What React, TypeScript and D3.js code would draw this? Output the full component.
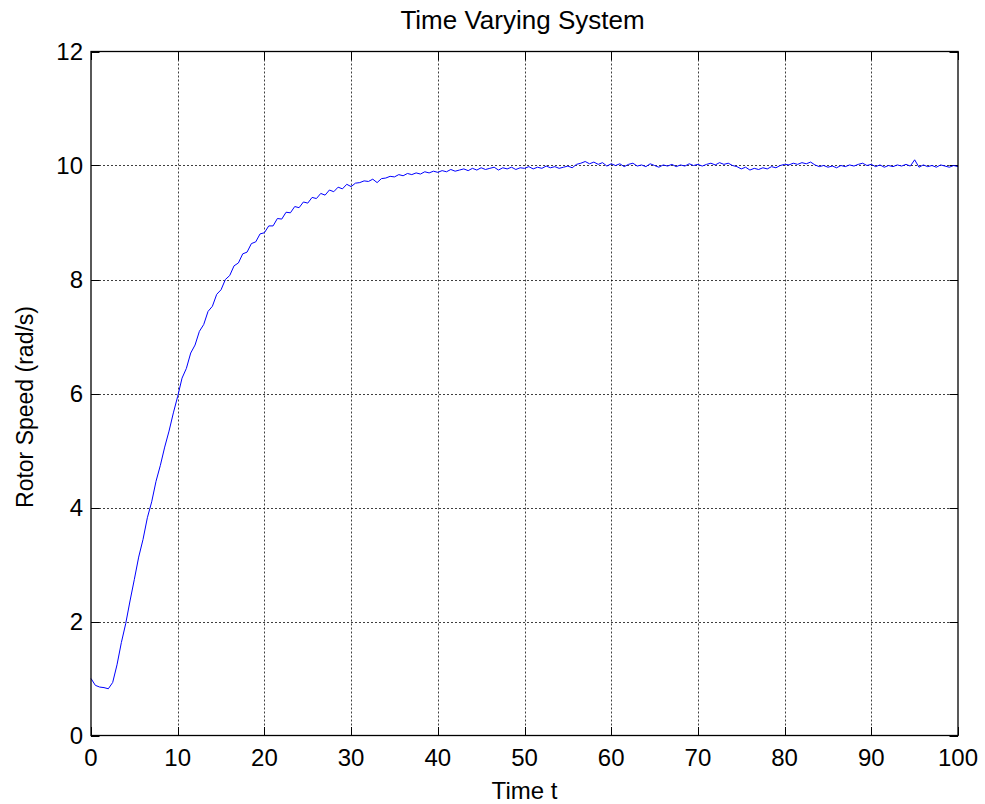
import React from "react";
import * as d3 from "d3";

const timeStep = 0.5;
// speed samples every 0.5 s, t = 0 .. 10
const speedRise = [
  1.0, 0.88, 0.85, 0.84, 0.82, 0.93, 1.24, 1.63, 1.96, 2.36, 2.74, 3.13, 3.44, 3.82, 4.1, 4.46, 4.74, 5.06, 5.34, 5.66, 5.95,
];
// t = 10.5 .. 30
const speedSettle = [
  6.27, 6.44, 6.71, 6.85, 7.09, 7.21, 7.44, 7.53, 7.74, 7.82, 8.0, 8.07, 8.24, 8.29, 8.45, 8.48, 8.63, 8.66, 8.8, 8.82,
  8.94, 8.94, 9.07, 9.06, 9.18, 9.17, 9.28, 9.26, 9.36, 9.34, 9.44, 9.42, 9.51, 9.48, 9.57, 9.54, 9.62, 9.59, 9.67, 9.63,
];
// t = 30.5 .. 50
const speedApproach = [
  9.69, 9.7, 9.73, 9.72, 9.76, 9.7, 9.77, 9.78, 9.81, 9.8, 9.84, 9.82, 9.86, 9.84, 9.87, 9.85, 9.89, 9.87, 9.9, 9.88,
  9.91, 9.89, 9.93, 9.9, 9.92, 9.94, 9.91, 9.95, 9.92, 9.96, 9.93, 9.95, 9.97, 9.92, 9.96, 9.94, 9.97, 9.93, 9.96, 9.95,
];
// t = 50.5 .. 100
const speedSteady = [
  9.98, 9.94, 9.97, 9.95, 9.99, 9.96, 9.98, 9.95, 9.97, 9.99, 9.96, 10.02, 10.04, 10.07, 10.03, 10.06, 10.02, 10.05, 9.99, 10.03,
  10.0, 10.03, 9.98, 10.02, 10.04, 9.99, 10.01, 9.98, 10.03, 10.0, 9.97, 10.01, 9.99, 10.02, 9.98, 10.01, 9.99, 10.03, 10.0, 10.02,
  9.99, 10.02, 10.04, 10.01, 10.05, 10.02, 10.04, 10.0, 9.98, 9.94, 9.97, 9.92, 9.95, 9.93, 9.96, 9.94, 9.98, 9.96, 10.0, 10.02,
  10.01, 10.04, 10.02, 10.05, 10.03, 10.06, 10.01, 9.98, 10.0, 9.97, 9.99, 9.96, 10.0, 9.98, 10.01, 9.99, 10.02, 10.04, 10.0, 10.02,
  9.98, 10.01, 9.97, 10.0, 9.98, 10.01, 9.99, 10.02, 9.99, 10.1, 9.97, 10.01, 9.98, 10.0, 9.97, 10.01, 9.99, 9.97, 10.0, 9.98,
];

const xTicks = [0, 10, 20, 30, 40, 50, 60, 70, 80, 90, 100];
const yTicks = [0, 2, 4, 6, 8, 10, 12];
const titleText = "Time Varying System";
const xLabelText = "Time t";
const yLabelText = "Rotor Speed (rad/s)";

const W = 985;
const H = 804;
const left = 91;
const right = 958;
const top = 51.5;
const bottom = 735.5;
const font = "'Liberation Sans', Arial, Helvetica, sans-serif";

export default function App() {
  const speed = [...speedRise, ...speedSettle, ...speedApproach, ...speedSteady];
  const data = speed.map((v, i) => ({ t: i * timeStep, v }));
  const x = d3.scaleLinear().domain([0, 100]).range([left, right]);
  const y = d3.scaleLinear().domain([0, 12]).range([bottom, top]);
  const line = d3
    .line<{ t: number; v: number }>()
    .x((d) => x(d.t))
    .y((d) => y(d.v));
  const tickLen = 8.5;

  return (
    <svg
      width={W}
      height={H}
      style={{ position: "absolute", left: 0, top: 0, background: "#fff" }}
      fontFamily={font}
    >
      <rect x={0} y={0} width={W} height={H} fill="#fff" />
      {/* grid */}
      {xTicks.slice(1, -1).map((t) => (
        <line
          key={"gx" + t}
          x1={Math.round(x(t)) + 0.5}
          x2={Math.round(x(t)) + 0.5}
          y1={top}
          y2={bottom}
          stroke="#000"
          strokeWidth={1}
          strokeDasharray="2,2"
          opacity={0.75}
        />
      ))}
      {yTicks.slice(1, -1).map((t) => (
        <line
          key={"gy" + t}
          x1={left}
          x2={right}
          y1={Math.round(y(t)) + 0.5}
          y2={Math.round(y(t)) + 0.5}
          stroke="#000"
          strokeWidth={1}
          strokeDasharray="2,2"
          opacity={0.75}
        />
      ))}
      {/* ticks */}
      {xTicks.map((t) => {
        const px = Math.round(x(t)) + 0.5;
        return (
          <g key={"tx" + t}>
            <line x1={px} x2={px} y1={bottom} y2={bottom - tickLen} stroke="#000" />
            <line x1={px} x2={px} y1={top} y2={top + tickLen} stroke="#000" />
            <text x={x(t)} y={766} textAnchor="middle" fontSize={24} fill="#000">
              {t}
            </text>
          </g>
        );
      })}
      {yTicks.map((t) => {
        const py = Math.round(y(t)) + 0.5;
        return (
          <g key={"ty" + t}>
            <line x1={left} x2={left + tickLen} y1={py} y2={py} stroke="#000" />
            <line x1={right} x2={right - tickLen} y1={py} y2={py} stroke="#000" />
            <text x={83} y={y(t) + 8.6} textAnchor="end" fontSize={24} fill="#000">
              {t}
            </text>
          </g>
        );
      })}
      {/* data line */}
      <path d={line(data) || ""} fill="none" stroke="#0000ff" strokeWidth={1} />
      {/* axes box */}
      <rect
        x={left}
        y={top}
        width={right - left}
        height={bottom - top}
        fill="none"
        stroke="#000"
        strokeWidth={1.3}
      />
      <text x={(left + right) / 2 - 2} y={29} textAnchor="middle" fontSize={26} fill="#000">
        {titleText}
      </text>
      <text x={(left + right) / 2} y={799} textAnchor="middle" fontSize={24} fill="#000">
        {xLabelText}
      </text>
      <text
        transform={`translate(33, 407) rotate(-90)`}
        textAnchor="middle"
        fontSize={23}
        fill="#000"
      >
        {yLabelText}
      </text>
    </svg>
  );
}
